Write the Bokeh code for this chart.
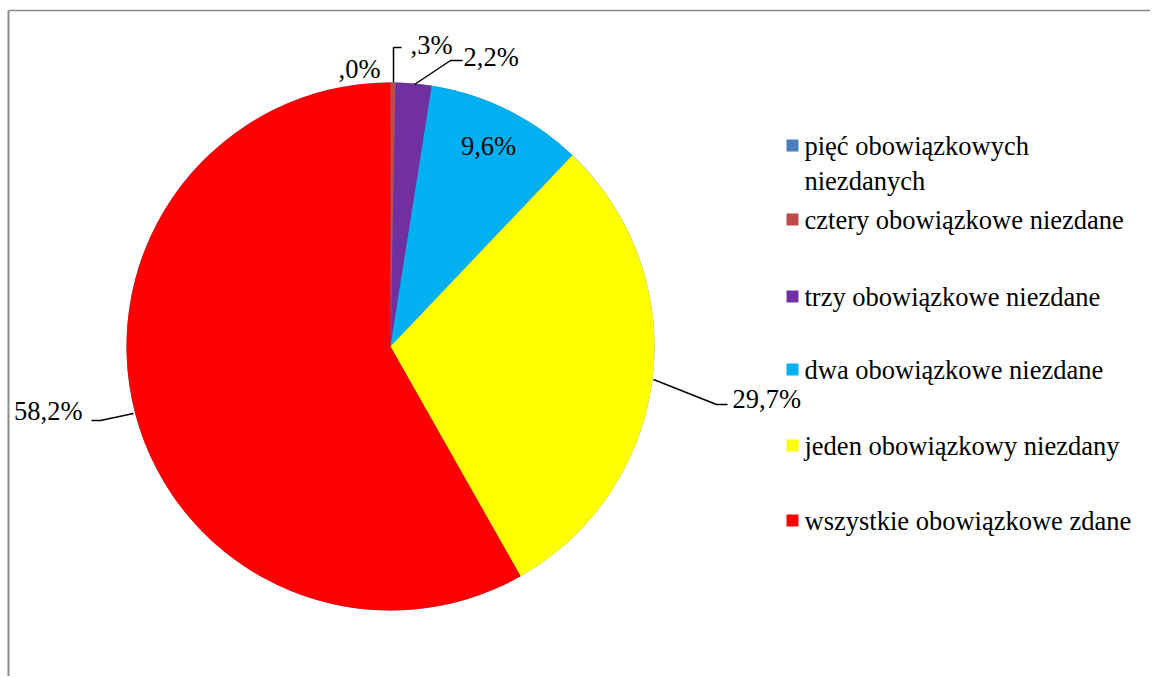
import math
from bokeh.plotting import figure
from bokeh.models import Range1d
from bokeh.core.properties import value
from bokeh.embed import file_html
from bokeh.resources import INLINE

categories = ["pięć obowiązkowych niezdanych", "cztery obowiązkowe niezdane",
              "trzy obowiązkowe niezdane", "dwa obowiązkowe niezdane",
              "jeden obowiązkowy niezdany", "wszystkie obowiązkowe zdane"]
legend_lines = [["pięć obowiązkowych", "niezdanych"], ["cztery obowiązkowe niezdane"],
                ["trzy obowiązkowe niezdane"], ["dwa obowiązkowe niezdane"],
                ["jeden obowiązkowy niezdany"], ["wszystkie obowiązkowe zdane"]]
values = [0.0, 0.3, 2.2, 9.6, 29.7, 58.2]
colors = ["#4A7EBB", "#BE4B48", "#7030A0", "#00B0F0", "#FFFF00", "#FF0000"]

W, H = 1150, 676
FONT = "Times New Roman"
FSIZE = "26.5px"

def X(px):
    return px

def Y(py):
    return H - py

p = figure(width=W, height=H, output_backend="svg", toolbar_location=None,
           x_range=Range1d(0, W), y_range=Range1d(0, H), min_border=0)
p.axis.visible = False
p.grid.visible = False
p.outline_line_color = None
p.background_fill_color = "white"

# frame (top and left only visible)
p.line([X(8), X(8)], [Y(10), 0], line_color="#8c8c8c", line_width=2)
p.line([X(8), W], [Y(10), Y(10)], line_color="#8c8c8c", line_width=1.5)

cx, cy, r = X(390), Y(346), 264
total = sum(values)
cum = 0.0
starts, ends = [], []
for v in values:
    starts.append(math.pi / 2 - cum / total * 2 * math.pi)
    cum += v
    ends.append(math.pi / 2 - cum / total * 2 * math.pi)

p.wedge(x=[cx] * len(values), y=[cy] * len(values), radius=r,
        start_angle=starts, end_angle=ends, direction="clock",
        fill_color=colors, line_color=None)

def fmt(v):
    s = f"{v:.1f}".replace(".", ",")
    if s.startswith("0,"):
        s = s[1:]
    return s + "%"

labels = [fmt(v) for v in values]
# label positions (page px) and alignment
lab_pos = [(380, 68, "right"), (410, 44, "left"), (463, 56, "left"),
           (488, 145, "center"), (732, 398, "left"), (82, 410, "right")]
for (lx, ly, al), t in zip(lab_pos, labels):
    p.text(x=[X(lx)], y=[Y(ly)], text=[t], text_align=al, text_baseline="middle",
           text_font=value(FONT), text_font_size=FSIZE, text_color="black")

# leader lines
leaders = [
    [(393, 82), (393, 47), (401, 47)],
    [(414, 84), (450, 60), (462, 60)],
    [(653, 379), (716, 404), (727, 404)],
    [(133, 413), (100, 420), (91, 420)],
]
p.multi_line(xs=[[X(a) for a, b in L] for L in leaders],
             ys=[[Y(b) for a, b in L] for L in leaders],
             line_color="black", line_width=1.5)

# legend
leg_y = [145, 219, 296, 369, 445, 520]
for i, (lines, c) in enumerate(zip(legend_lines, colors)):
    yy = leg_y[i]
    p.rect(x=[X(792)], y=[Y(yy)], width=12, height=12, fill_color=c, line_color=None)
    for j, t in enumerate(lines):
        p.text(x=[X(804)], y=[Y(yy + j * 35)], text=[t], text_align="left",
               text_baseline="middle", text_font=value(FONT),
               text_font_size=FSIZE, text_color="black")

open("out.html", "w").write(file_html(p, INLINE))
